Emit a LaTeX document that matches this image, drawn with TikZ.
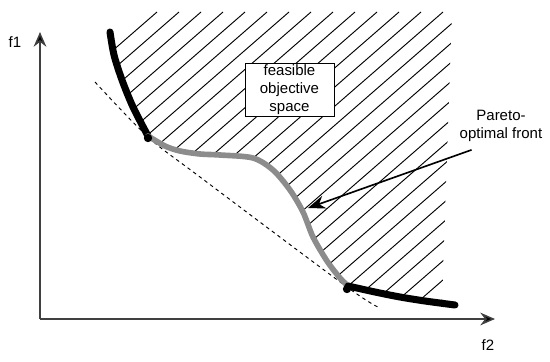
\documentclass[tikz,border=0pt]{standalone}
\usepackage{fontspec}
\setmainfont{Liberation Sans}
\usetikzlibrary{arrows.meta, calc}

\begin{document}
\begin{tikzpicture}[
  x=0.03cm, y=-0.03cm,
  font=\fontsize{12.8}{15.4}\selectfont,
  axis/.style={-{Stealth[length=0.44cm, width=0.38cm, fill=black]}, line width=1.3pt, draw=black!75},
  hatch/.style={line width=0.8pt},
  front/.style={line width=4.8pt, line cap=round, line join=round, draw=black!45},
  tail/.style={line width=6pt, line cap=round, line join=round},
  tangent/.style={dashed, line width=0.8pt},
  regionbox/.style={draw, fill=white, line width=0.8pt, minimum width=2.67cm,
                    minimum height=1.5cm, align=center, inner sep=1pt},
  arrow/.style={-{Stealth[length=0.52cm, width=0.4cm]}, line width=1.4pt},
  dot/.style={circle, fill=black, inner sep=0pt, minimum size=0.25cm},
]
\useasboundingbox (0,0) rectangle (550,362);

% --- hatched feasible region
\begin{scope}
  \clip plot[smooth] coordinates {(110,32) (114,55) (122,80) (133,107) (148,136)
      (165,146) (180,151) (200,154) (220,155) (253,158) (273,170) (290,190)
      (303,212) (313,237) (327,261) (340,278) (348,286) (375,292) (400,297)
      (425,301) (442,303)} -- (452,10) -- (135,10) -- cycle;
  \foreach \k in {0,...,32}
    \draw[hatch] (157+22*\k,12) -- ++(-400,348);
\end{scope}

% --- tangent line
\draw[tangent] plot[smooth] coordinates {(95,82) (148,137) (200,177) (347,287) (380,308)};

% --- front
\draw[tail] plot[smooth] coordinates {(110,32) (114,55) (122,80) (133,107) (148,136)};
\draw[front] plot[smooth] coordinates {(148,136) (165,146) (180,151) (200,154)
    (220,155) (253,158) (273,170) (290,190) (303,212) (313,237) (327,261)
    (340,278) (348,286)};
\draw[tail] plot[smooth] coordinates {(348,286) (375,292) (400,297) (425,301) (455,305)};

\node[dot] (p1) at (148,138) {};
\node[dot] (p2) at (347,289) {};

% --- axes
\coordinate (origin) at (40,319);
\coordinate (f1end) at (40,32);
\coordinate (f2end) at (495,319);
\draw[axis] (origin) -- (f1end);
\draw[axis] (origin) -- (f2end);
\node (f1) at (15,42) {f1};
\node (f2) at (488,345) {f2};

% --- labels
\node[regionbox] (feasible) at (289.5,90) {feasible\\objective\\space};
\node[align=center] (pareto) at (501,126) {Pareto-\\optimal front};
\coordinate (hit) at (308,208);
\draw[arrow] ($(pareto.south west)+(16,4)$) -- (hit);
\end{tikzpicture}
\end{document}
